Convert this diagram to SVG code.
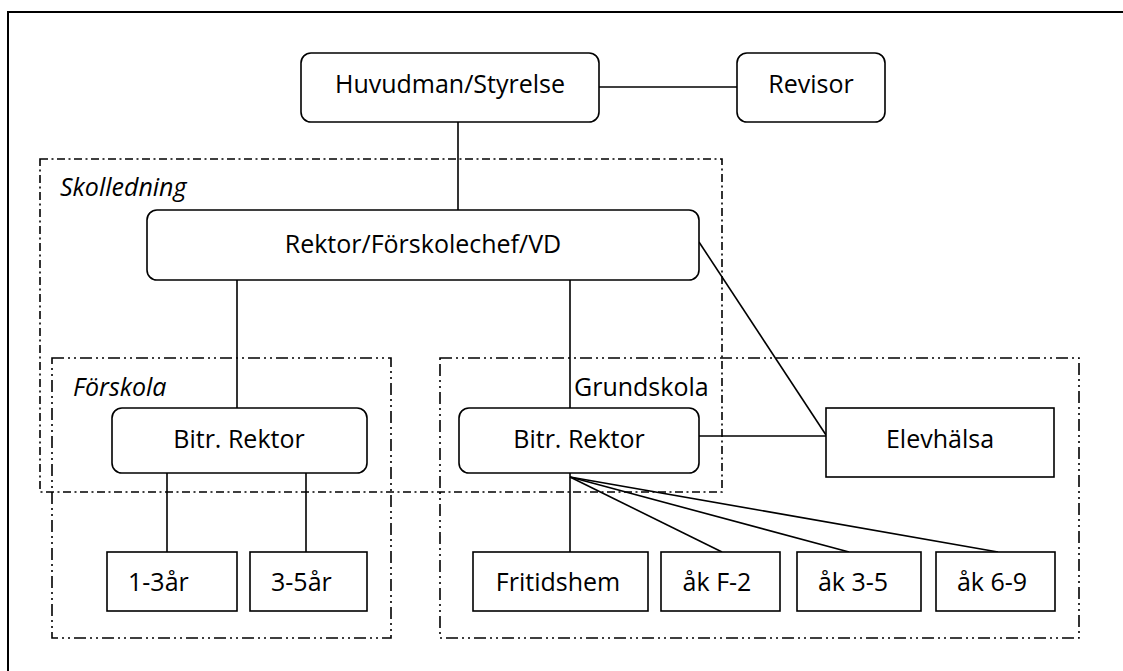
<svg xmlns="http://www.w3.org/2000/svg" width="1123" height="671" viewBox="0 0 1123 671">
<style>
.bg{fill:#ffffff}
.frame{fill:none;stroke:#000;stroke-width:2}
.box{fill:#fff;stroke:#000;stroke-width:1.6}
.grp{fill:none;stroke:#000;stroke-width:1.6}
.dd{stroke-dasharray:8 3.5 2 3.5}
.ddd{stroke-dasharray:12 4 2 4 2 4}
.ln{fill:none;stroke:#000;stroke-width:1.6}
text{font-family:"Open Sans","Liberation Sans",sans-serif;font-size:25px;fill:#000}
.c{text-anchor:middle}
.it{font-style:italic}
</style>
<rect class="bg" x="0" y="0" width="1123" height="671"/>
<rect class="frame" x="8" y="12" width="1125" height="670"/>
<g id="groups">
<g id="skolledning"><rect class="grp dd" x="40" y="159" width="682" height="333"/><text class="it" x="60" y="196">Skolledning</text></g>
<g id="forskola"><rect class="grp ddd" x="52" y="358" width="339" height="280"/><text class="it" x="73" y="396">Förskola</text></g>
<g id="grundskola"><rect class="grp ddd" x="440" y="358" width="639" height="280"/><text x="574" y="396">Grundskola</text></g>
</g>
<g id="connectors">
<line class="ln" x1="599" y1="87" x2="737" y2="87"/>
<line class="ln" x1="458" y1="122" x2="458" y2="210"/>
<line class="ln" x1="237" y1="280" x2="237" y2="408"/>
<line class="ln" x1="570" y1="280" x2="570" y2="408"/>
<line class="ln" x1="699" y1="242" x2="826" y2="435"/>
<line class="ln" x1="699" y1="436" x2="826" y2="436"/>
<line class="ln" x1="167" y1="473" x2="167" y2="552"/>
<line class="ln" x1="306" y1="473" x2="306" y2="552"/>
<line class="ln" x1="570" y1="473" x2="570" y2="552"/>
<line class="ln" x1="570" y1="477" x2="722" y2="552"/>
<line class="ln" x1="570" y1="477" x2="849" y2="552"/>
<line class="ln" x1="570" y1="477" x2="998" y2="552"/>
</g>
<g id="huvudman"><rect class="box" x="301" y="53" width="298" height="69" rx="10"/><text class="c" x="450" y="93">Huvudman/Styrelse</text></g>
<g id="revisor"><rect class="box" x="737" y="53" width="148" height="69" rx="10"/><text class="c" x="811" y="93">Revisor</text></g>
<g id="rektor"><rect class="box" x="147" y="210" width="552" height="70" rx="10"/><text class="c" x="423" y="253">Rektor/Förskolechef/VD</text></g>
<g id="bitr-forskola"><rect class="box" x="112" y="408" width="255" height="65" rx="10"/><text class="c" x="239" y="448">Bitr. Rektor</text></g>
<g id="bitr-grundskola"><rect class="box" x="459" y="408" width="240" height="65" rx="10"/><text class="c" x="579" y="448">Bitr. Rektor</text></g>
<g id="elevhalsa"><rect class="box" x="826" y="408" width="228" height="69"/><text class="c" x="940" y="448">Elevhälsa</text></g>
<g id="ar13"><rect class="box" x="107" y="552" width="130" height="59"/><text x="128" y="591">1-3år</text></g>
<g id="ar35"><rect class="box" x="250" y="552" width="117" height="59"/><text x="271" y="591">3-5år</text></g>
<g id="fritidshem"><rect class="box" x="473" y="552" width="175" height="59"/><text class="c" x="558" y="591">Fritidshem</text></g>
<g id="akF2"><rect class="box" x="661" y="552" width="119" height="59"/><text class="c" x="717" y="591">åk F-2</text></g>
<g id="ak35"><rect class="box" x="797" y="552" width="124" height="59"/><text class="c" x="853" y="591">åk 3-5</text></g>
<g id="ak69"><rect class="box" x="936" y="552" width="119" height="59"/><text class="c" x="992" y="591">åk 6-9</text></g>
</svg>
